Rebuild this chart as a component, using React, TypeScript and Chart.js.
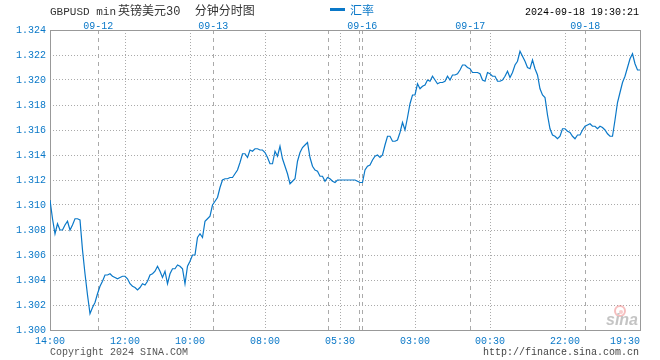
import React, { useEffect, useRef } from 'react';
import { Chart, registerables } from 'chart.js';

Chart.register(...registerables);

// ---- data ----
const rates: number[] = [
  1.3104, 1.3089, 1.3077, 1.3085, 1.3080, 1.3080, 1.3084, 1.3087, 1.3080, 1.3084,
  1.3089, 1.3089, 1.3088, 1.3064, 1.3045, 1.3028, 1.3013, 1.3018, 1.3022, 1.3029,
  1.3035, 1.3039, 1.3044, 1.3044, 1.3045, 1.3043, 1.3042, 1.3041, 1.3042, 1.3043,
  1.3043, 1.3041, 1.3037, 1.3035, 1.3034, 1.3032, 1.3034, 1.3037, 1.3036, 1.3039,
  1.3044, 1.3045, 1.3047, 1.3051, 1.3047, 1.3042, 1.3047, 1.3037, 1.3045, 1.3049,
  1.3049, 1.3052, 1.3051, 1.3049, 1.3037, 1.3051, 1.3055, 1.3060, 1.3060, 1.3074,
  1.3077, 1.3074, 1.3087, 1.3089, 1.3091, 1.3100, 1.3103, 1.3106, 1.3114, 1.3120,
  1.3121, 1.3121, 1.3122, 1.3122, 1.3125, 1.3128, 1.3134, 1.3141, 1.3141, 1.3138,
  1.3144, 1.3143, 1.3145, 1.3145, 1.3144, 1.3144, 1.3142, 1.3138, 1.3133, 1.3133,
  1.3143, 1.3139, 1.3147, 1.3137, 1.3131, 1.3125, 1.3117, 1.3119, 1.3121, 1.3135,
  1.3142, 1.3146, 1.3148, 1.3150, 1.3138, 1.3131, 1.3128, 1.3127, 1.3123, 1.3123,
  1.3119, 1.3122, 1.3121, 1.3119, 1.3118, 1.3120, 1.3120, 1.3120, 1.3120, 1.3120,
  1.3120, 1.3120, 1.3120, 1.3119, 1.3118, 1.3118, 1.3128, 1.3131, 1.3132, 1.3136,
  1.3139, 1.3140, 1.3138, 1.3140, 1.3148, 1.3155, 1.3155, 1.3151, 1.3151, 1.3152,
  1.3158, 1.3166, 1.3160, 1.3170, 1.3181, 1.3188, 1.3188, 1.3197, 1.3193, 1.3195,
  1.3196, 1.3200, 1.3199, 1.3203, 1.3200, 1.3197, 1.3198, 1.3198, 1.3199, 1.3203,
  1.3200, 1.3204, 1.3204, 1.3205, 1.3208, 1.3212, 1.3212, 1.3210, 1.3209, 1.3206,
  1.3206, 1.3206, 1.3205, 1.3200, 1.3199, 1.3206, 1.3205, 1.3203, 1.3203, 1.3199,
  1.3199, 1.3200, 1.3203, 1.3207, 1.3202, 1.3206, 1.3212, 1.3215, 1.3223, 1.3219,
  1.3215, 1.3210, 1.3209, 1.3216, 1.3209, 1.3204, 1.3193, 1.3188, 1.3186, 1.3172,
  1.3161, 1.3156, 1.3155, 1.3153, 1.3155, 1.3161, 1.3161, 1.3159, 1.3158, 1.3155,
  1.3153, 1.3156, 1.3156, 1.3160, 1.3163, 1.3164, 1.3165, 1.3163, 1.3163, 1.3161,
  1.3163, 1.3162, 1.3160, 1.3157, 1.3155, 1.3155, 1.3168, 1.3182, 1.3190, 1.3198,
  1.3203, 1.3210, 1.3217, 1.3221, 1.3213, 1.3208, 1.3208,
];

const timeTickIdx: number[] = [0, 30, 56, 86, 116, 146, 176, 206, 236];
const timeLabels: string[] = ['14:00', '12:00', '10:00', '08:00', '05:30', '03:00', '00:30', '22:00', '19:30'];
const dayTickIdx: number[] = [19.3, 65.3, 111.3, 123.6, 124.9, 168.1, 214.1];
const dayLabels: string[] = ['09-12', '09-13', '', '', '09-16', '09-17', '09-18'];
const yMin = 1.3;
const yMax = 1.324;
const yStep = 0.002;

const seriesName = '汇率';
const titleLatin = 'GBPUSD min';
const titleCn = '英镑美元30  分钟分时图';
const stamp = '2024-09-18 19:30:21';
const copyright = 'Copyright 2024 SINA.COM';
const site = 'http://finance.sina.com.cn';

// ---- styles ----
const BLUE = '#0a78c8';
const GRID = '#aaaaaa';
const MONO = "'Liberation Mono', 'DejaVu Sans Mono', monospace";
const CJK = "'Liberation Mono', 'Noto Sans CJK SC', sans-serif";

const decor = {
  id: 'decor',
  beforeDatasetsDraw(chart: any) {
    const { ctx, chartArea: a } = chart;
    ctx.save();
    // watermark
    ctx.strokeStyle = 'rgba(235,110,110,0.45)';
    ctx.lineWidth = 2;
    ctx.beginPath();
    ctx.arc(620, 311, 5, 0, Math.PI * 2);
    ctx.stroke();
    ctx.fillStyle = 'rgba(235,110,110,0.35)';
    ctx.beginPath();
    ctx.arc(621, 312, 2, 0, Math.PI * 2);
    ctx.fill();
    ctx.font = "italic bold 16px 'Liberation Sans', sans-serif";
    ctx.fillStyle = '#c4c4c4';
    ctx.textBaseline = 'alphabetic';
    ctx.textAlign = 'left';
    ctx.fillText('sina', 606, 325);
    // frame
    ctx.setLineDash([]);
    ctx.strokeStyle = '#999999';
    ctx.lineWidth = 1;
    ctx.strokeRect(
      Math.round(a.left) + 0.5,
      Math.round(a.top) + 0.5,
      Math.round(a.right - a.left),
      Math.round(a.bottom - a.top)
    );
    ctx.restore();
  },
  afterDraw(chart: any) {
    const { ctx } = chart;
    ctx.save();
    ctx.textBaseline = 'alphabetic';
    ctx.textAlign = 'left';
    ctx.fillStyle = '#333333';
    ctx.font = `11px ${MONO}`;
    ctx.fillText(titleLatin, 50, 15);
    ctx.font = `12px ${CJK}`;
    ctx.fillText(titleCn, 118, 15);
    // legend
    ctx.fillStyle = BLUE;
    ctx.fillRect(330, 8, 15, 3);
    ctx.font = `12px ${CJK}`;
    ctx.fillText(seriesName, 350, 15);
    // timestamp
    ctx.fillStyle = '#000000';
    ctx.font = `10px ${MONO}`;
    ctx.textAlign = 'right';
    ctx.fillText(stamp, 639, 15);
    // footer
    ctx.fillStyle = '#444444';
    ctx.fillText(site, 639, 355);
    ctx.textAlign = 'left';
    ctx.fillStyle = '#555555';
    ctx.fillText(copyright, 50, 355);
    ctx.restore();
  },
};

export default function App() {
  const ref = useRef<HTMLCanvasElement | null>(null);

  useEffect(() => {
    document.body.style.margin = '0';
    const canvas = ref.current;
    if (!canvas) return;
    const last = rates.length - 1;
    const yTicks: number[] = [];
    const n = Math.round((yMax - yMin) / yStep);
    for (let k = 0; k <= n; k++) yTicks.push(yMin + k * yStep);

    const chart = new Chart(canvas, {
      type: 'line',
      data: {
        datasets: [
          {
            label: seriesName,
            data: rates.map((v, i) => ({ x: i, y: v })),
            borderColor: BLUE,
            borderWidth: 1.2,
            pointRadius: 0,
            fill: false,
            tension: 0,
            xAxisID: 'x',
            yAxisID: 'y',
          },
        ],
      },
      options: {
        animation: false,
        responsive: false,
        devicePixelRatio: 1,
        layout: { padding: { left: 0, right: 20, top: 0, bottom: 0 } },
        plugins: { legend: { display: false }, tooltip: { enabled: false } },
        scales: {
          x: {
            type: 'linear',
            position: 'bottom',
            min: 0,
            max: last,
            afterBuildTicks: (s: any) => {
              s.ticks = timeTickIdx.map((v) => ({ value: v }));
            },
            afterFit: (s: any) => {
              s.height = 30;
              s.paddingLeft = 0;
              s.paddingRight = 0;
            },
            ticks: {
              autoSkip: false,
              maxRotation: 0,
              minRotation: 0,
              padding: 5,
              color: BLUE,
              font: { family: MONO, size: 10 },
              callback: (_v: any, i: number) =>
                i === timeLabels.length - 1 ? timeLabels[i] + '     ' : timeLabels[i],
            },
            grid: { color: GRID, lineWidth: 1, drawTicks: false },
            border: { display: false, dash: [1, 2] },
          },
          x2: {
            type: 'linear',
            position: 'top',
            min: 0,
            max: last,
            afterBuildTicks: (s: any) => {
              s.ticks = dayTickIdx.map((v) => ({ value: v }));
            },
            afterFit: (s: any) => {
              s.height = 30;
              s.paddingLeft = 0;
              s.paddingRight = 0;
            },
            ticks: {
              autoSkip: false,
              maxRotation: 0,
              minRotation: 0,
              padding: -2,
              color: BLUE,
              font: { family: MONO, size: 10 },
              callback: (_v: any, i: number) => dayLabels[i],
            },
            grid: { color: GRID, lineWidth: 1, drawTicks: false },
            border: { display: false, dash: [4, 4] },
          },
          y: {
            type: 'linear',
            position: 'left',
            min: yMin,
            max: yMax,
            afterBuildTicks: (s: any) => {
              s.ticks = yTicks.map((v) => ({ value: v }));
            },
            afterFit: (s: any) => {
              s.width = 50;
            },
            ticks: {
              padding: 4,
              color: BLUE,
              font: { family: MONO, size: 10 },
              callback: (v: any) => Number(v).toFixed(3),
            },
            grid: { color: GRID, lineWidth: 1, drawTicks: false },
            border: { display: false, dash: [1, 2] },
          },
        },
      },
      plugins: [decor],
    } as any);
    return () => chart.destroy();
  }, []);

  return (
    <div style={{ position: 'fixed', left: 0, top: 0, width: 660, height: 360, background: '#fff' }}>
      <canvas ref={ref} width={660} height={360} style={{ width: 660, height: 360 }} />
    </div>
  );
}
